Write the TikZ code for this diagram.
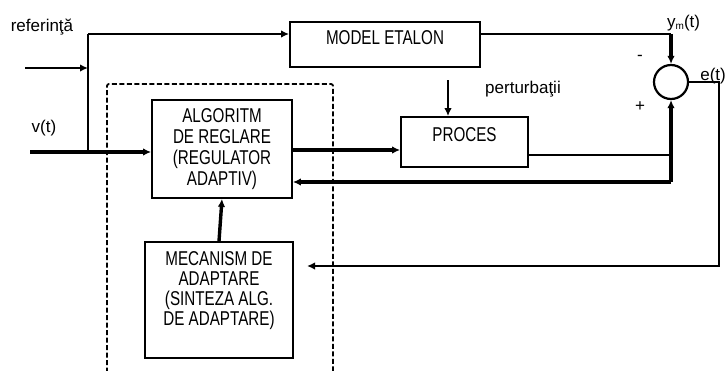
\documentclass[tikz,border=0pt]{standalone}
\usepackage{fontspec}
\setmainfont{Liberation Sans}
\newfontfamily\boxfont[FakeStretch=0.76]{Liberation Sans}
\usetikzlibrary{arrows.meta}
\begin{document}
\begin{tikzpicture}[x=1pt,y=-1pt,
  blk/.style={draw,line width=1.8pt,inner sep=0pt,align=center,
    font=\boxfont\fontsize{20}{21}\selectfont},
  lbl/.style={inner sep=0pt,font=\fontsize{17}{20}\selectfont},
  boxtxt/.style={inner sep=0pt,align=center,font=\boxfont\fontsize{20}{20}\selectfont},
  thinline/.style={line width=1.7pt},
  midline/.style={line width=2.2pt},
  thickline/.style={line width=3.4pt},
  tip/.style={-{Latex[length=8pt,width=7.5pt]}},
  dashbox/.style={line width=1.8pt,dash pattern=on 5pt off 2.5pt,rounded corners=2pt}]
\useasboundingbox (0,0) rectangle (727,370);
% dashed frame
\draw[dashbox] (107,395) -- (107,84) -- (333,84) -- (333,395);
% blocks
\node[blk,minimum width=190pt,minimum height=45pt] (model) at (385,44.5) {};
\node[boxtxt] (modeltxt) at (385,38) {MODEL ETALON};
\node[blk,minimum width=140pt,minimum height=98pt] (alg) at (222,149)
  {ALGORITM\\DE REGLARE\\(REGULATOR\\ADAPTIV)};
\node[blk,minimum width=127pt,minimum height=50pt] (proces) at (464.5,142) {};
\node[boxtxt] (procestxt) at (464.5,135) {PROCES};
\node[blk,minimum width=148pt,minimum height=116pt] (mec) at (219,300) {};
\node[boxtxt] (mectxt) at (219,291)
  {MECANISM DE\\ADAPTARE\\(SINTEZA ALG.\\DE ADAPTARE)};
\node[draw,circle,line width=2.2pt,minimum size=34pt,inner sep=0pt] (sum) at (671,82) {};
% labels
\node[lbl] (ref) at (42,27) {referinţă};
\node[lbl] (vt) at (44,128) {v(t)};
\node[lbl] (pertl) at (523,89) {perturbaţii};
\node[lbl,anchor=west] (ymt) at (667,23) {y{\fontsize{10}{10}\selectfont\raisebox{-2pt}{m}}(t)};
\node[lbl,anchor=east] (et) at (726,76) {e(t)};
\node[lbl] (minus) at (640,58) {-};
\node[lbl] (plus) at (640,107) {+};
% coordinates
\coordinate (refin) at (25,68);
\coordinate (j1) at (88,68);
\coordinate (j2) at (88,152);
\coordinate (jtop) at (88,34);
\coordinate (vin) at (30,152);
\coordinate (ymc) at (671,34);
\coordinate (pout) at (669,155);
\coordinate (fb) at (671,182);
\coordinate (eright) at (719,82);
\coordinate (edown) at (719,266);
\coordinate (mecin) at (307,266);
\coordinate (pert) at (448,80);
% connectors
\draw[thinline,tip] (refin) -- (j1);
\draw[midline] (j2) -- (jtop);
\draw[midline,tip] (jtop) -- (model.west |- jtop);
\draw[thickline,tip] (vin) -- (alg.west |- vin);
\draw[midline] (model.east |- jtop) -- (ymc);
\draw[thickline,tip] (ymc) -- (sum.north);
\draw[thickline,tip] (alg.east |- 0,150) -- (proces.west |- 0,150);
\draw[thinline] (proces.east |- pout) -- (pout);
\draw[thickline,tip] (fb) -- (sum.south);
\draw[thickline,tip] (fb) -- (alg.east |- fb);
\draw[thinline,tip] (sum.east) -- (eright) -- (edown) -- (mecin);
\draw[thickline,tip] (mec.north) -- (alg.south);
\draw[thinline,tip] (pert) -- (pert |- proces.north);
\end{tikzpicture}
\end{document}
